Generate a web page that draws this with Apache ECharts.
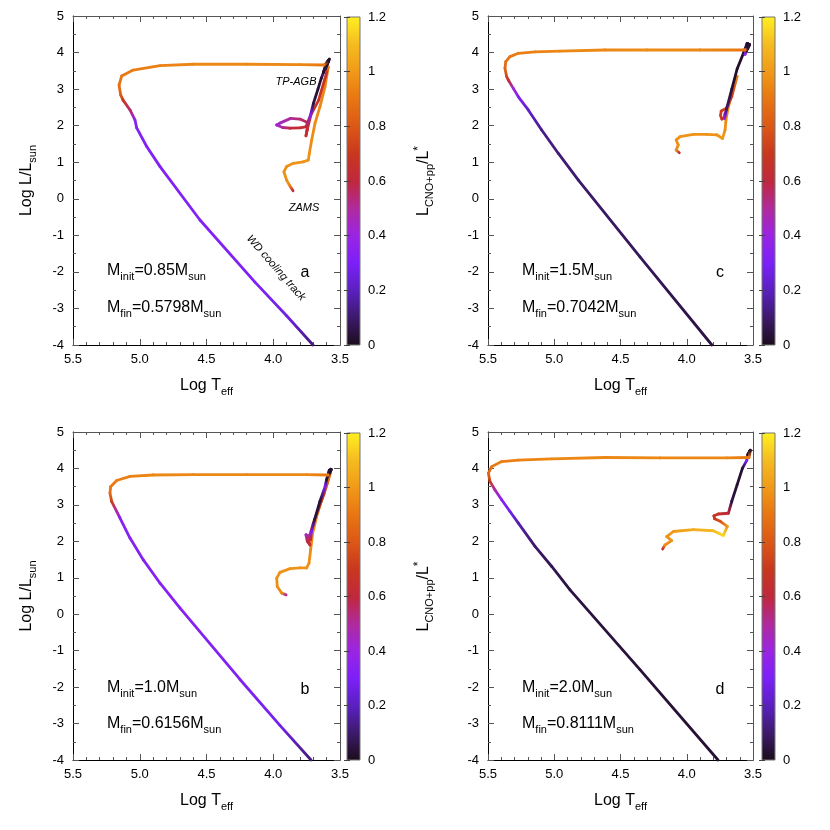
<!DOCTYPE html>
<html>
<head>
<meta charset="utf-8">
<script src="https://cdn.jsdelivr.net/npm/echarts@6.0.0/dist/echarts.min.js"></script>
<style>
  html, body { margin: 0; padding: 0; background: #fff; }
  #chart { width: 830px; height: 830px; }
</style>
</head>
<body>
<div id="chart"></div>
<script>
// colour palette of L_(CNO+pp)/L*, one colour every 0.1 from 0 to 1.2
const PALETTE = ['#1c0c1a', '#3c1a6a', '#5a20c0', '#7c20f8', '#9a24e4', '#b02a9c', '#c0283c',
  '#c8381e', '#dc5816', '#e87612', '#f09a18', '#f5bc20', '#fff020'];
const FRAC_MAX = 1.2;
const FRAC_TICKS = [0, 0.2, 0.4, 0.6, 0.8, 1, 1.2];

// panel a : M_init = 0.85
const logT_a = [3.852, 3.88, 3.90, 3.92, 3.90, 3.85, 3.775, 3.737, 3.73, 3.712, 3.687, 3.65, 3.612, 3.588,
  3.60, 3.66, 3.717, 3.747, 3.755, 3.745,
  3.74, 3.80, 3.87, 3.95, 3.975, 3.93, 3.875, 3.80, 3.755,
  3.72, 3.70, 3.665, 3.64, 3.612, 3.60, 3.625, 3.59, 3.61, 3.58, 3.60, 3.585,
  3.62, 3.80, 4.20, 4.60, 4.848, 5.05, 5.135, 5.155, 5.143, 5.125, 5.073, 5.036, 5.023, 4.948, 4.848, 4.549, 4.137, 3.90, 3.702];
const logL_a = [0.22, 0.38, 0.51, 0.74, 0.88, 0.97, 1.01, 1.06, 1.24, 1.61, 2.07, 2.52, 3.07, 3.61,
  3.45, 2.70, 2.30, 1.88, 1.72, 1.90,
  2.08, 2.18, 2.20, 2.07, 2.02, 1.95, 1.93, 1.94, 1.97,
  2.30, 2.60, 3.00, 3.30, 3.57, 3.72, 3.45, 3.78, 3.55, 3.82, 3.65, 3.76,
  3.66, 3.67, 3.68, 3.68, 3.64, 3.52, 3.36, 3.11, 2.84, 2.70, 2.43, 2.16, 1.94, 1.43, 0.88, -0.58, -2.28, -3.20, -4.0];
const frac_a = [0.62, 0.95, 0.97, 0.97, 0.97, 0.98, 0.98, 0.98, 0.97, 0.96, 0.96, 0.95, 0.95, 0.95,
  0.68, 0.68, 0.66, 0.65, 0.65, 0.62,
  0.6, 0.55, 0.5, 0.45, 0.42, 0.5, 0.6, 0.65, 0.6,
  0.3, 0.05, 0.03, 0.03, 0.3, 0.03, 0.02, 0.02, 0.05, 0.02, 0.03, 0.02,
  0.9, 0.95, 0.95, 0.95, 0.93, 0.92, 0.9, 0.88, 0.82, 0.7, 0.55, 0.35, 0.32, 0.32, 0.32, 0.32, 0.31, 0.27, 0.12];

// panel c : M_init = 1.5
const logT_c = [4.056, 4.08, 4.064, 4.08, 4.05, 3.95, 3.85, 3.774, 3.73, 3.711, 3.704, 3.69, 3.65, 3.62,
  3.66, 3.70, 3.74, 3.745, 3.735, 3.715, 3.71, 3.715,
  3.70, 3.66, 3.62, 3.57, 3.545, 3.56, 3.535, 3.55, 3.525, 3.54,
  3.56, 3.90, 4.30, 4.617, 4.957, 5.145, 5.271, 5.334, 5.366, 5.372, 5.359, 5.347, 5.309, 5.271, 5.196, 5.095, 4.969, 4.818, 4.353, 3.81];
const logL_c = [1.26, 1.33, 1.47, 1.61, 1.70, 1.76, 1.76, 1.75, 1.65, 1.88, 2.16, 2.45, 3.00, 3.35,
  2.80, 2.48, 2.40, 2.28, 2.18, 2.22, 2.35, 2.20,
  2.45, 3.00, 3.55, 4.00, 4.25, 3.95, 4.24, 4.05, 4.22, 4.10,
  4.07, 4.07, 4.07, 4.07, 4.04, 4.02, 3.98, 3.89, 3.75, 3.57, 3.34, 3.25, 3.02, 2.79, 2.43, 1.88, 1.24, 0.51, -1.59, -4.0];
const frac_c = [0.62, 0.95, 0.97, 0.97, 0.98, 0.98, 0.98, 0.98, 1.0, 0.97, 0.95, 0.93, 0.95, 0.95,
  0.7, 0.72, 0.72, 0.72, 0.68, 0.6, 0.45, 0.35,
  0.1, 0.03, 0.02, 0.02, 0.02, 0.35, 0.02, 0.02, 0.02, 0.05,
  0.9, 0.95, 0.96, 0.95, 0.95, 0.93, 0.92, 0.9, 0.88, 0.85, 0.75, 0.65, 0.42, 0.33, 0.22, 0.14, 0.12, 0.1, 0.08, 0.05];

// panel b : M_init = 1.0
const logT_b = [3.904, 3.937, 3.97, 3.974, 3.95, 3.874, 3.80, 3.75, 3.732, 3.72, 3.705, 3.675, 3.637, 3.595, 3.57,
  3.62, 3.70, 3.737, 3.725, 3.745, 3.755, 3.735, 3.72,
  3.715, 3.69, 3.65, 3.612, 3.60, 3.58, 3.59, 3.57, 3.585, 3.565, 3.58,
  3.59, 3.75, 4.20, 4.60, 4.90, 5.073, 5.173, 5.218, 5.223, 5.21, 5.173, 5.148, 5.073, 4.973, 4.848, 4.698, 4.249, 3.95, 3.717];
const logL_b = [0.53, 0.58, 0.76, 0.99, 1.15, 1.25, 1.27, 1.27, 1.40, 1.77, 2.22, 2.68, 3.14, 3.59, 3.90,
  3.30, 2.50, 2.04, 1.90, 2.00, 2.18, 2.15, 2.05,
  2.25, 2.60, 3.10, 3.50, 3.70, 3.95, 3.80, 3.98, 3.85, 3.97, 3.86,
  3.82, 3.83, 3.83, 3.83, 3.82, 3.78, 3.67, 3.50, 3.32, 3.09, 2.82, 2.64, 2.09, 1.49, 0.85, 0.17, -1.79, -3.05, -4.0];
const frac_b = [0.5, 0.95, 0.97, 0.97, 0.98, 0.98, 0.98, 0.98, 0.97, 0.96, 0.95, 0.95, 0.95, 0.95, 0.95,
  0.68, 0.68, 0.66, 0.65, 0.6, 0.45, 0.5, 0.62,
  0.3, 0.05, 0.03, 0.3, 0.03, 0.02, 0.02, 0.02, 0.1, 0.02, 0.02,
  0.9, 0.95, 0.95, 0.95, 0.95, 0.93, 0.92, 0.9, 0.87, 0.72, 0.48, 0.35, 0.33, 0.33, 0.33, 0.33, 0.32, 0.28, 0.12];

// panel d : M_init = 2.0
const logT_d = [4.182, 4.164, 4.114, 4.151, 4.101, 3.95, 3.80, 3.724, 3.694,
  3.747, 3.79, 3.795, 3.762, 3.686,
  3.66, 3.62, 3.58, 3.547, 3.54, 3.525, 3.535, 3.52,
  3.53, 3.70, 4.20, 4.617, 5.019, 5.271, 5.397, 5.472, 5.497, 5.485, 5.447, 5.397, 5.334, 5.271, 5.145, 5.019, 4.881, 4.353, 3.764];
const logL_d = [1.79, 1.90, 2.02, 2.13, 2.27, 2.32, 2.29, 2.16, 2.41,
  2.55, 2.62, 2.70, 2.75, 2.77,
  3.10, 3.55, 4.00, 4.22, 4.38, 4.48, 4.35, 4.50,
  4.30, 4.29, 4.29, 4.30, 4.26, 4.23, 4.19, 4.05, 3.87, 3.64, 3.41, 3.14, 2.82, 2.50, 1.86, 1.31, 0.67, -1.52, -4.0];
const frac_d = [0.62, 0.97, 0.98, 0.98, 1.0, 1.05, 1.1, 1.15, 1.0,
  0.78, 0.7, 0.68, 0.66, 0.6,
  0.05, 0.03, 0.03, 0.3, 0.02, 0.02, 0.02, 0.02,
  0.9, 0.95, 0.95, 0.95, 0.95, 0.93, 0.92, 0.9, 0.85, 0.72, 0.48, 0.33, 0.28, 0.18, 0.1, 0.07, 0.05, 0.04, 0.03];

const FONT = 'Liberation Sans, Arial, sans-serif';
const RICH = {
  m: { fontSize: 16, lineHeight: 22, fontFamily: FONT, color: '#000' },
  s: { fontSize: 11, lineHeight: 11, verticalAlign: 'bottom', fontFamily: FONT, color: '#000' },
  p: { fontSize: 12, lineHeight: 14, verticalAlign: 'top', fontFamily: FONT, color: '#000' }
};

const chart = echarts.init(document.getElementById('chart'), null, { renderer: 'canvas' });

function colorAt(v) {
  return echarts.color.lerp(Math.max(0, Math.min(1, v / FRAC_MAX)), PALETTE);
}

// main panels: a, c, b, d
const panels = [
  { T: logT_a, L: logL_a, C: frac_a, grid: { left: 73, top: 16, width: 267, height: 329 }, bar: { left: 347, top: 17, width: 13, height: 328 }, ylab: true },
  { T: logT_c, L: logL_c, C: frac_c, grid: { left: 488, top: 16, width: 265, height: 329 }, bar: { left: 762, top: 17, width: 13, height: 328 }, ylab: false },
  { T: logT_b, L: logL_b, C: frac_b, grid: { left: 73, top: 432, width: 267, height: 328 }, bar: { left: 347, top: 433, width: 13, height: 327 }, ylab: true },
  { T: logT_d, L: logL_d, C: frac_d, grid: { left: 488, top: 432, width: 265, height: 328 }, bar: { left: 762, top: 433, width: 13, height: 327 }, ylab: false }
];

const grids = [], xAxes = [], yAxes = [], series = [];
const tickStyle = { color: '#555', width: 1 };

panels.forEach((p, g) => {
  grids.push(p.grid);
  const xbase = {
    gridIndex: g, type: 'value', min: 3.5, max: 5.5, interval: 0.5, inverse: true,
    axisLine: { onZero: false, lineStyle: { color: '#000', width: 1 } },
    axisTick: { inside: true, length: 6, lineStyle: tickStyle },
    minorTick: { show: true, splitNumber: 5, length: 3, lineStyle: tickStyle },
    splitLine: { show: false }
  };
  xAxes.push(Object.assign({}, xbase, {
    position: 'bottom',
    axisLabel: { formatter: v => v.toFixed(1), fontSize: 13, color: '#000', margin: 8, fontFamily: FONT },
    name: '{m|Log T}{s|eff}', nameLocation: 'middle', nameGap: 30,
    nameTextStyle: { rich: RICH }
  }));
  xAxes.push(Object.assign({}, xbase, {
    position: 'top', axisLabel: { show: false },
    axisLine: { onZero: false, lineStyle: { color: '#555', width: 1 } }
  }));
  const ybase = {
    gridIndex: g, type: 'value', min: -4, max: 5, interval: 1,
    axisLine: { onZero: false, lineStyle: { color: '#000', width: 1 } },
    axisTick: { inside: true, length: 6, lineStyle: tickStyle },
    minorTick: { show: true, splitNumber: 2, length: 3, lineStyle: tickStyle },
    splitLine: { show: false }
  };
  yAxes.push(Object.assign({}, ybase, {
    position: 'left',
    axisLabel: { fontSize: 13, color: '#000', margin: 9, fontFamily: FONT },
    name: p.ylab ? '{m|Log L/L}{s|sun}' : '', nameLocation: 'middle', nameRotate: 90, nameGap: 35,
    nameTextStyle: { rich: RICH }
  }));
  yAxes.push(Object.assign({}, ybase, {
    position: 'right', axisLabel: { show: false },
    axisLine: { onZero: false, lineStyle: { color: '#555', width: 1 } }
  }));

  const T = p.T, L = p.L, C = p.C;
  series.push({
    type: 'custom', coordinateSystem: 'cartesian2d',
    xAxisIndex: 2 * g, yAxisIndex: 2 * g, silent: true,
    data: T.map((t, i) => [t, L[i], C[i]]),
    renderItem(params, api) {
      const i = params.dataIndex;
      if (i === 0) return null;
      const p0 = api.coord([T[i - 1], L[i - 1]]);
      const p1 = api.coord([api.value(0), api.value(1)]);
      return {
        type: 'line',
        shape: { x1: p0[0], y1: p0[1], x2: p1[0], y2: p1[1] },
        style: {
          stroke: new echarts.graphic.LinearGradient(p0[0], p0[1], p1[0], p1[1],
            [{ offset: 0, color: colorAt(C[i - 1]) }, { offset: 1, color: colorAt(C[i]) }], true),
          lineWidth: 2.8, lineCap: 'round'
        }
      };
    }
  });
});

// colour bars
panels.forEach((p, k) => {
  const g = 4 + k;
  grids.push(p.bar);
  const xi = xAxes.length, yi = yAxes.length;
  xAxes.push({ gridIndex: g, type: 'value', min: 0, max: 1, show: false });
  const ybase = {
    gridIndex: g, type: 'value', min: 0, max: FRAC_MAX, interval: 0.2, z: 5,
    axisLine: { show: false },
    axisTick: { inside: true, length: 3, lineStyle: { color: '#444' } },
    splitLine: { show: false }
  };
  yAxes.push(Object.assign({}, ybase, {
    position: 'right',
    axisLabel: {
      formatter: v => String(Math.round(v * 10) / 10), fontSize: 13, color: '#000', margin: 8, fontFamily: FONT,
      customValues: FRAC_TICKS
    },
    name: p.ylab ? '{m|L}{s|CNO+pp}{m|/L}{p|*}' : '', nameLocation: 'middle', nameRotate: 90, nameGap: 53,
    nameTextStyle: { rich: RICH }
  }));
  yAxes.push(Object.assign({}, ybase, { position: 'left', axisLabel: { show: false } }));
  series.push({
    type: 'custom', coordinateSystem: 'cartesian2d', xAxisIndex: xi, yAxisIndex: yi, silent: true, z: 1,
    data: [[0, 0]],
    renderItem(params, api) {
      const a = api.coord([0, 0]);
      const b = api.coord([1, FRAC_MAX]);
      return {
        type: 'rect',
        shape: { x: a[0], y: b[1], width: b[0] - a[0], height: a[1] - b[1] },
        style: {
          fill: new echarts.graphic.LinearGradient(0, 1, 0, 0,
            PALETTE.map((c, i) => ({ offset: i / (PALETTE.length - 1), color: c }))),
          stroke: '#777', lineWidth: 1
        }
      };
    }
  });
});

// annotations
const notes = [
  ['{m|M}{s|init}{m|=0.85M}{s|sun}', 107, 271], ['{m|M}{s|fin}{m|=0.5798M}{s|sun}', 107, 308],
  ['{m|M}{s|init}{m|=1.5M}{s|sun}', 522, 271], ['{m|M}{s|fin}{m|=0.7042M}{s|sun}', 522, 308],
  ['{m|M}{s|init}{m|=1.0M}{s|sun}', 107, 688], ['{m|M}{s|fin}{m|=0.6156M}{s|sun}', 107, 724],
  ['{m|M}{s|init}{m|=2.0M}{s|sun}', 522, 688], ['{m|M}{s|fin}{m|=0.8111M}{s|sun}', 522, 724]
];
const graphic = notes.map(n => ({
  type: 'text', x: n[1], y: n[2],
  style: { text: n[0], rich: RICH, textAlign: 'left', textVerticalAlign: 'middle' }
}));
[['a', 305, 273], ['c', 720, 273], ['b', 305, 690], ['d', 720, 690]].forEach(l => graphic.push({
  type: 'text', x: l[1], y: l[2],
  style: { text: l[0], font: '16px ' + FONT, fill: '#000', textAlign: 'center', textVerticalAlign: 'middle' }
}));
const italic = 'italic 11px ' + FONT;
graphic.push(
  { type: 'text', x: 296, y: 82, style: { text: 'TP-AGB', font: italic, fill: '#000', textAlign: 'center', textVerticalAlign: 'middle' } },
  { type: 'text', x: 304, y: 208, style: { text: 'ZAMS', font: italic, fill: '#000', textAlign: 'center', textVerticalAlign: 'middle' } },
  { type: 'text', x: 276, y: 268, rotation: -0.85, style: { text: 'WD cooling track', font: italic, fill: '#000', textAlign: 'center', textVerticalAlign: 'middle' } }
);

chart.setOption({
  animation: false,
  backgroundColor: '#fff',
  grid: grids,
  xAxis: xAxes,
  yAxis: yAxes,
  series: series,
  graphic: graphic
});
</script>
</body>
</html>
